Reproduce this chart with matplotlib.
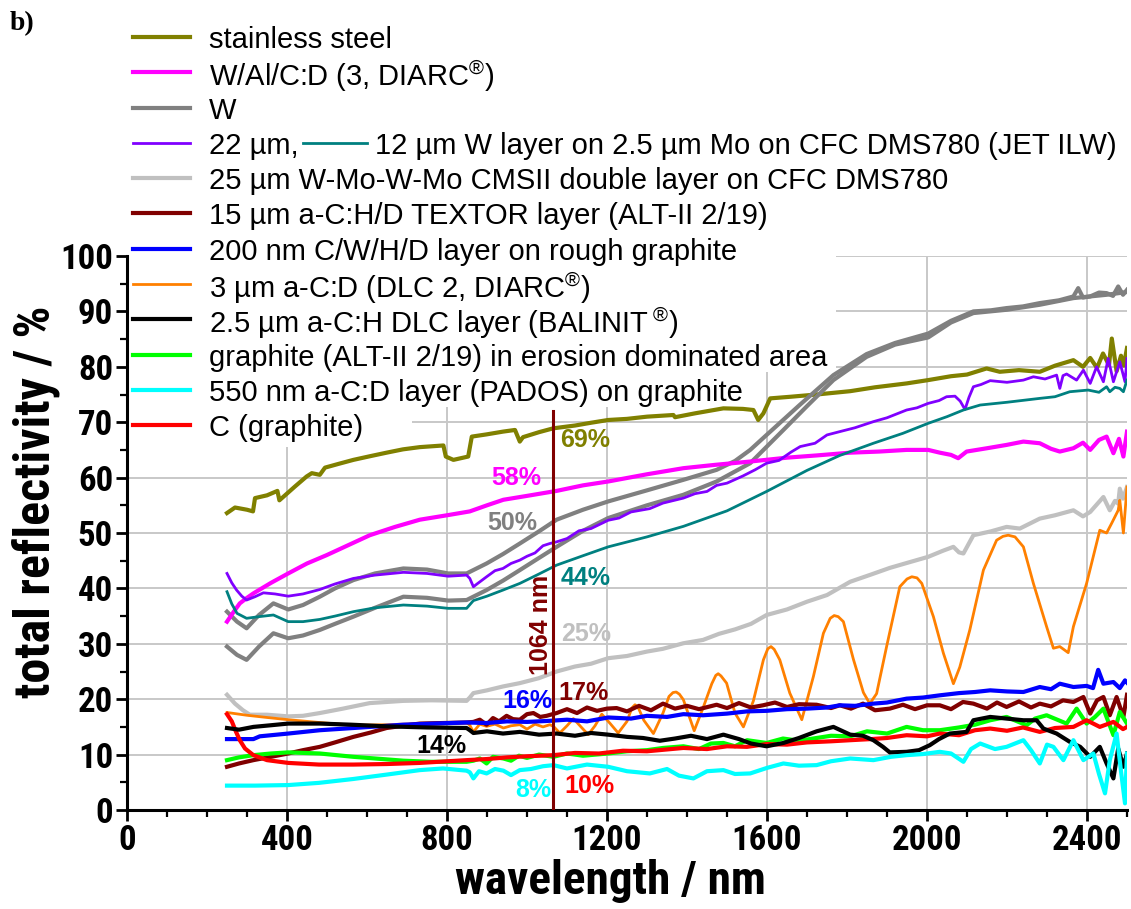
import matplotlib
matplotlib.use("Agg")
import matplotlib.pyplot as plt
from matplotlib import font_manager as fm
from matplotlib.lines import Line2D
from matplotlib.patches import Rectangle
from matplotlib.ticker import MultipleLocator

plt.rcParams['mathtext.fontset'] = 'custom'
plt.rcParams['mathtext.rm'] = 'Liberation Sans'

SANS = ['Liberation Sans', 'DejaVu Sans']


def find_narrow_bold():
    """Return (family, stretch) of a condensed sans font if one is installed."""
    entries = fm.fontManager.ttflist
    names = {f.name for f in entries}
    for n in ['Liberation Sans Narrow', 'Arial Narrow', 'Roboto Condensed',
              'Open Sans Condensed', 'Noto Sans Condensed']:
        if n in names:
            return n, 'normal'
    for f in entries:
        if f.name in ('Noto Sans', 'Open Sans', 'Roboto') and \
                str(f.stretch) in ('condensed', 'semi-condensed', 'extra-condensed'):
            return f.name, str(f.stretch)
    return None, None


narrow_family, narrow_stretch = find_narrow_bold()
if narrow_family is not None:
    AXFONT = dict(family=[narrow_family, 'Liberation Sans'], fontstretch=narrow_stretch)
    tick_size, xlab_size, ylab_size = 25, 34, 36
else:
    AXFONT = dict(family=SANS)
    tick_size, xlab_size, ylab_size = 23, 30, 32

# ---------------- data (wavelength in nm, total reflectivity in %) ----------------
steel_x = [250, 270, 300, 315, 320, 350, 376, 381, 420, 449, 462, 482, 495, 530, 566, 610, 649, 690, 732, 791, 797, 816, 853, 862, 899, 940, 970, 982, 990, 1030, 1066, 1120, 1160, 1203, 1250, 1300, 1366, 1370, 1420, 1491, 1540, 1566, 1578, 1591, 1608, 1660, 1724, 1808, 1870, 1949, 2003, 2060, 2100, 2149, 2182, 2230, 2282, 2320, 2366, 2390, 2408, 2425, 2440, 2455, 2462, 2474, 2485, 2492, 2500]
steel_y = [53.6, 54.6, 54.2, 53.9, 56.3, 56.8, 57.6, 55.9, 58.4, 60.2, 60.8, 60.5, 61.8, 62.5, 63.2, 63.9, 64.5, 65.1, 65.5, 65.8, 63.8, 63.2, 63.8, 67.4, 67.8, 68.3, 68.6, 66.5, 67.3, 68.2, 68.9, 69.4, 69.9, 70.4, 70.6, 71.0, 71.3, 70.9, 71.6, 72.5, 72.4, 72.2, 70.4, 71.6, 74.3, 74.6, 75.0, 75.6, 76.3, 77.0, 77.6, 78.3, 78.6, 79.7, 79.1, 79.4, 79.1, 80.2, 81.2, 80.0, 81.6, 79.8, 82.4, 80.3, 85.1, 79.2, 82.0, 80.2, 83.4]

walc_x = [250, 265, 282, 300, 316, 360, 403, 450, 499, 550, 607, 670, 732, 800, 857, 900, 941, 1000, 1074, 1140, 1203, 1300, 1391, 1470, 1558, 1650, 1724, 1808, 1880, 1949, 2003, 2032, 2060, 2078, 2099, 2150, 2199, 2241, 2282, 2310, 2332, 2366, 2390, 2408, 2430, 2449, 2466, 2480, 2491, 2500]
walc_y = [34.0, 35.6, 37.3, 38.3, 39.1, 41.0, 42.7, 44.5, 46.0, 47.7, 49.6, 51.1, 52.4, 53.2, 53.9, 55.0, 56.0, 56.7, 57.6, 58.6, 59.3, 60.6, 61.7, 62.3, 62.9, 63.6, 64.0, 64.5, 64.7, 65.0, 65.0, 64.5, 64.1, 63.5, 64.7, 65.3, 65.9, 66.5, 66.2, 65.2, 64.7, 65.3, 66.3, 65.0, 66.8, 67.4, 64.4, 67.0, 63.8, 68.3]

w1_x = [250, 275, 299, 330, 366, 403, 440, 482, 520, 566, 620, 691, 750, 803, 849, 899, 940, 982, 1030, 1074, 1140, 1203, 1300, 1391, 1474, 1520, 1558, 1599, 1680, 1766, 1849, 1920, 2003, 2060, 2116, 2160, 2199, 2240, 2282, 2330, 2366, 2378, 2390, 2408, 2430, 2449, 2465, 2478, 2490, 2500]
w1_y = [35.8, 34.0, 32.8, 35.2, 37.3, 36.2, 37.0, 38.5, 40.0, 41.5, 42.7, 43.6, 43.4, 42.7, 42.7, 44.5, 46.2, 48.1, 50.3, 52.4, 54.2, 55.7, 57.7, 59.6, 61.4, 63.0, 65.0, 67.7, 73.0, 78.5, 82.3, 84.3, 86.0, 88.3, 90.0, 90.2, 90.6, 90.9, 91.5, 92.0, 92.7, 94.2, 92.5, 92.7, 93.4, 93.3, 92.8, 94.5, 93.0, 93.9]

w2_x = [250, 275, 299, 330, 366, 403, 440, 482, 520, 566, 620, 691, 750, 803, 849, 899, 940, 982, 1030, 1074, 1140, 1203, 1300, 1391, 1474, 1558, 1641, 1700, 1766, 1849, 1920, 2003, 2060, 2116, 2200, 2282, 2366, 2449, 2500]
w2_y = [29.5, 28.0, 27.1, 29.5, 31.9, 31.0, 31.5, 32.5, 33.6, 34.9, 36.5, 38.5, 38.3, 37.8, 37.9, 39.7, 41.4, 43.3, 45.5, 47.5, 50.4, 52.7, 55.0, 56.9, 59.3, 62.6, 68.6, 72.9, 77.6, 81.8, 84.0, 85.3, 88.0, 89.7, 90.3, 91.2, 92.4, 93.0, 93.5]

w22_x = [250, 262, 274, 287, 299, 320, 341, 370, 403, 440, 482, 520, 566, 620, 691, 750, 803, 849, 857, 866, 875, 899, 920, 940, 960, 982, 1000, 1020, 1040, 1057, 1074, 1100, 1130, 1160, 1203, 1230, 1260, 1307, 1340, 1391, 1420, 1450, 1474, 1500, 1540, 1570, 1599, 1630, 1660, 1683, 1720, 1750, 1782, 1820, 1866, 1900, 1949, 1975, 2003, 2030, 2049, 2070, 2083, 2095, 2105, 2116, 2135, 2158, 2200, 2241, 2266, 2295, 2324, 2332, 2340, 2349, 2374, 2391, 2408, 2424, 2441, 2453, 2466, 2482, 2495, 2500]
w22_y = [42.7, 41.0, 39.7, 38.6, 37.9, 38.5, 39.2, 39.0, 38.6, 39.0, 39.8, 40.8, 41.8, 42.4, 42.9, 42.7, 42.2, 42.4, 41.8, 40.3, 40.8, 42.1, 43.2, 43.6, 44.5, 45.1, 45.8, 46.4, 47.7, 48.1, 48.4, 49.0, 50.4, 50.8, 52.3, 52.7, 53.8, 54.4, 55.4, 56.3, 57.1, 57.5, 58.6, 59.0, 60.3, 61.4, 62.6, 63.1, 64.6, 65.6, 66.2, 67.7, 68.3, 69.0, 70.1, 70.8, 72.2, 72.6, 73.4, 73.9, 74.6, 74.7, 73.8, 72.3, 74.5, 76.4, 76.8, 77.5, 77.2, 77.6, 78.2, 77.8, 78.5, 76.1, 78.4, 78.7, 77.6, 79.4, 77.0, 80.0, 77.3, 81.5, 77.3, 80.9, 77.3, 81.5]

w12_x = [250, 262, 275, 299, 330, 366, 403, 440, 482, 520, 566, 620, 691, 750, 803, 849, 866, 900, 940, 982, 1030, 1074, 1140, 1203, 1300, 1391, 1500, 1599, 1700, 1782, 1866, 1940, 2003, 2050, 2091, 2133, 2200, 2282, 2320, 2357, 2403, 2430, 2449, 2457, 2470, 2482, 2491, 2500]
w12_y = [39.4, 37.2, 35.5, 34.6, 34.9, 35.2, 34.0, 34.0, 34.4, 35.0, 35.8, 36.5, 37.0, 36.8, 36.4, 36.4, 37.8, 38.6, 39.7, 40.9, 42.6, 44.2, 45.9, 47.5, 49.3, 51.2, 54.0, 57.5, 61.3, 64.0, 66.2, 68.0, 69.8, 71.0, 72.2, 73.1, 73.6, 74.3, 74.6, 75.5, 75.8, 75.4, 76.4, 75.5, 76.3, 76.1, 75.5, 77.6]

wmo_x = [250, 270, 290, 307, 350, 403, 440, 482, 540, 607, 691, 760, 849, 857, 866, 900, 940, 982, 1030, 1074, 1120, 1160, 1203, 1250, 1300, 1340, 1391, 1440, 1480, 1520, 1560, 1599, 1650, 1700, 1750, 1808, 1860, 1907, 1950, 2003, 2040, 2066, 2080, 2091, 2116, 2160, 2199, 2232, 2282, 2320, 2366, 2390, 2408, 2441, 2457, 2470, 2478, 2482, 2490, 2500]
wmo_y = [20.8, 19.2, 18.0, 17.2, 17.2, 16.9, 17.0, 17.5, 18.3, 19.3, 19.7, 19.8, 19.7, 20.3, 21.1, 21.6, 22.3, 22.9, 23.8, 25.0, 25.9, 26.4, 27.4, 27.8, 28.6, 29.1, 30.1, 30.7, 31.8, 32.6, 33.6, 35.2, 36.2, 37.6, 38.8, 41.2, 42.5, 43.7, 44.6, 45.7, 46.8, 47.5, 46.5, 46.3, 49.6, 50.3, 51.1, 50.8, 52.6, 53.2, 54.1, 53.0, 53.8, 56.5, 54.1, 55.8, 55.3, 58.0, 56.2, 58.3]

textor_x = [250, 280, 316, 360, 403, 440, 482, 520, 566, 610, 649, 690, 732, 790, 849, 866, 882, 899, 915, 930, 949, 965, 982, 1000, 1016, 1033, 1049, 1074, 1100, 1125, 1150, 1175, 1200, 1224, 1250, 1280, 1310, 1340, 1370, 1400, 1430, 1474, 1500, 1530, 1560, 1590, 1620, 1650, 1680, 1724, 1760, 1782, 1810, 1840, 1870, 1907, 1940, 1970, 2000, 2032, 2060, 2090, 2116, 2150, 2175, 2199, 2230, 2260, 2282, 2310, 2340, 2366, 2391, 2408, 2425, 2441, 2457, 2474, 2491, 2500]
textor_y = [7.8, 8.4, 9.0, 9.6, 10.2, 10.8, 11.4, 12.2, 13.2, 14.0, 14.8, 15.2, 15.6, 15.7, 15.8, 15.9, 16.3, 15.4, 16.6, 16.0, 17.0, 16.4, 16.3, 17.3, 17.5, 16.8, 17.0, 17.5, 18.2, 17.5, 18.5, 17.9, 18.3, 18.4, 17.8, 18.8, 18.0, 19.2, 18.3, 18.8, 18.2, 19.0, 18.4, 19.3, 18.5, 18.9, 19.4, 18.6, 19.1, 19.0, 18.4, 18.9, 18.3, 19.2, 18.0, 18.3, 19.0, 18.2, 18.9, 18.9, 18.2, 19.5, 19.2, 18.3, 19.4, 18.6, 19.6, 18.5, 19.2, 18.7, 19.8, 19.5, 20.4, 17.4, 19.8, 20.4, 17.1, 20.4, 16.8, 20.8]

cwhd_x = [250, 290, 316, 332, 403, 482, 566, 691, 849, 899, 950, 1000, 1057, 1100, 1150, 1203, 1260, 1300, 1350, 1391, 1440, 1500, 1550, 1599, 1650, 1700, 1750, 1782, 1820, 1866, 1900, 1949, 1990, 2032, 2080, 2120, 2158, 2200, 2241, 2282, 2310, 2332, 2366, 2399, 2415, 2428, 2441, 2466, 2482, 2495, 2500]
cwhd_y = [12.8, 12.8, 12.8, 13.3, 13.8, 14.4, 14.8, 15.4, 15.8, 15.7, 16.0, 15.9, 16.1, 16.3, 16.0, 16.7, 16.5, 17.0, 16.8, 17.3, 17.1, 17.4, 17.8, 17.9, 18.2, 18.3, 18.5, 18.9, 18.8, 19.2, 19.4, 20.1, 20.3, 20.7, 21.1, 21.3, 21.6, 21.4, 21.3, 22.2, 21.8, 22.8, 22.2, 22.4, 22.0, 25.3, 22.8, 23.1, 22.0, 23.4, 23.0]

dlc_x = [250, 300, 350, 403, 480, 566, 650, 732, 849, 857, 866, 882, 899, 920, 941, 960, 982, 1000, 1020, 1040, 1057, 1066, 1082, 1100, 1116, 1135, 1153, 1170, 1187, 1208, 1228, 1250, 1262, 1270, 1278, 1292, 1316, 1340, 1355, 1365, 1373, 1381, 1391, 1418, 1441, 1462, 1472, 1478, 1485, 1499, 1520, 1541, 1566, 1591, 1602, 1610, 1618, 1632, 1657, 1687, 1716, 1741, 1758, 1768, 1778, 1791, 1816, 1841, 1857, 1874, 1899, 1932, 1950, 1962, 1975, 1987, 2016, 2041, 2066, 2082, 2107, 2141, 2174, 2190, 2203, 2220, 2241, 2266, 2299, 2316, 2332, 2353, 2366, 2399, 2432, 2449, 2462, 2478, 2482, 2491, 2500]
dlc_y = [17.6, 17.1, 16.7, 16.3, 15.8, 15.3, 15.4, 15.6, 15.8, 15.3, 14.1, 15.5, 15.1, 15.5, 14.8, 15.2, 15.4, 14.6, 15.5, 15.0, 15.4, 15.1, 13.9, 15.2, 16.5, 15.0, 13.6, 15.2, 17.3, 15.6, 13.9, 16.0, 18.4, 19.0, 18.5, 16.2, 13.8, 17.5, 20.5, 21.2, 21.3, 20.9, 19.9, 14.3, 18.6, 22.8, 24.3, 24.6, 24.2, 22.9, 17.5, 15.0, 19.7, 27.1, 29.1, 29.5, 29.0, 27.1, 21.1, 16.3, 24.1, 31.9, 34.6, 35.1, 34.9, 34.0, 27.2, 21.2, 19.2, 21.0, 29.5, 40.3, 41.7, 42.1, 41.9, 40.9, 34.9, 28.3, 22.8, 25.8, 32.5, 43.3, 48.7, 49.4, 49.6, 49.3, 47.5, 40.9, 33.1, 29.2, 29.5, 28.4, 33.1, 40.9, 50.5, 50.0, 51.8, 54.1, 55.9, 50.0, 58.3]

balinit_x = [250, 280, 316, 360, 403, 482, 560, 649, 750, 849, 857, 866, 900, 940, 982, 1030, 1074, 1120, 1160, 1203, 1250, 1290, 1332, 1370, 1410, 1450, 1491, 1530, 1560, 1599, 1641, 1680, 1724, 1766, 1808, 1840, 1866, 1890, 1907, 1949, 1980, 2007, 2030, 2057, 2099, 2116, 2158, 2199, 2241, 2274, 2291, 2324, 2357, 2383, 2408, 2432, 2449, 2466, 2478, 2491, 2500]
balinit_y = [14.8, 14.5, 15.0, 15.3, 15.6, 15.6, 15.4, 15.1, 14.9, 14.8, 14.4, 13.9, 14.2, 13.8, 14.1, 13.6, 13.8, 13.4, 13.9, 13.6, 13.2, 13.0, 12.5, 12.9, 13.4, 12.8, 13.6, 12.8, 12.0, 11.5, 12.1, 13.0, 14.2, 15.0, 13.6, 13.4, 12.6, 11.4, 10.4, 10.5, 10.8, 11.7, 12.8, 13.8, 14.1, 16.2, 16.8, 16.5, 16.2, 16.2, 14.7, 13.8, 12.3, 11.4, 9.6, 11.4, 8.4, 5.7, 11.1, 7.8, 10.2]

alt_x = [250, 280, 316, 360, 403, 482, 566, 620, 691, 760, 849, 866, 882, 899, 915, 941, 960, 980, 1000, 1030, 1066, 1100, 1140, 1203, 1250, 1300, 1340, 1391, 1430, 1460, 1491, 1520, 1550, 1599, 1640, 1680, 1724, 1760, 1808, 1850, 1900, 1949, 1990, 2032, 2080, 2120, 2158, 2199, 2249, 2270, 2299, 2349, 2374, 2399, 2420, 2441, 2466, 2482, 2500]
alt_y = [9.0, 9.5, 9.9, 10.2, 10.4, 10.2, 9.6, 9.3, 8.9, 8.7, 8.7, 8.9, 9.3, 8.4, 9.6, 9.3, 8.9, 9.8, 9.4, 10.0, 9.6, 10.2, 9.8, 10.2, 10.6, 10.8, 11.2, 11.5, 11.0, 12.0, 12.1, 11.5, 12.6, 12.1, 12.9, 12.5, 13.0, 13.4, 13.3, 14.2, 13.8, 15.0, 14.4, 14.4, 14.9, 15.4, 16.2, 16.8, 15.3, 16.5, 17.1, 15.6, 18.3, 15.6, 16.8, 18.3, 13.5, 17.7, 15.6]

pados_x = [250, 320, 403, 480, 566, 650, 732, 790, 849, 857, 866, 880, 899, 920, 941, 960, 982, 1010, 1040, 1066, 1100, 1150, 1203, 1250, 1307, 1350, 1380, 1416, 1450, 1491, 1520, 1558, 1600, 1641, 1680, 1724, 1760, 1808, 1866, 1910, 1949, 1990, 2032, 2060, 2091, 2110, 2133, 2170, 2199, 2241, 2260, 2282, 2300, 2316, 2341, 2366, 2391, 2416, 2430, 2445, 2457, 2474, 2485, 2495, 2500]
pados_y = [4.4, 4.4, 4.5, 4.9, 5.6, 6.4, 7.2, 7.5, 7.1, 6.8, 5.7, 7.0, 6.6, 7.4, 7.1, 6.3, 7.2, 7.4, 7.9, 8.1, 7.5, 8.2, 7.8, 7.0, 6.6, 7.4, 6.2, 5.7, 7.0, 7.2, 6.5, 6.6, 7.6, 8.4, 8.0, 8.1, 8.8, 9.3, 9.0, 9.6, 9.9, 10.1, 10.5, 10.2, 8.7, 11.0, 12.0, 11.0, 11.4, 12.6, 10.8, 8.4, 11.8, 11.4, 9.0, 12.6, 9.0, 10.2, 6.5, 3.0, 9.0, 13.8, 7.0, 1.2, 10.2]

graphite_x = [250, 262, 272, 282, 295, 316, 350, 403, 480, 566, 650, 732, 849, 900, 950, 1000, 1066, 1120, 1180, 1240, 1300, 1391, 1450, 1500, 1550, 1599, 1650, 1700, 1760, 1808, 1860, 1900, 1949, 2000, 2032, 2080, 2120, 2158, 2200, 2240, 2282, 2320, 2366, 2399, 2432, 2466, 2490, 2500]
graphite_y = [17.3, 16.0, 14.2, 12.6, 11.1, 9.9, 9.0, 8.5, 8.2, 8.2, 8.3, 8.5, 9.0, 9.2, 9.5, 9.7, 9.9, 10.3, 10.2, 10.7, 10.6, 11.2, 11.0, 11.5, 11.4, 11.9, 11.8, 12.2, 12.4, 12.6, 12.8, 13.0, 13.5, 13.3, 13.8, 13.5, 14.4, 14.7, 14.3, 14.9, 14.1, 14.8, 15.0, 16.2, 15.0, 15.9, 14.6, 15.0]

legend_labels = [
    'stainless steel',
    'W/Al/C:D (3, DIARC$^{\u00ae}$)',
    'W',
    '22 \u00b5m,',
    '25 \u00b5m W-Mo-W-Mo CMSII double layer on CFC DMS780',
    '15 \u00b5m a-C:H/D TEXTOR layer (ALT-II 2/19)',
    '200 nm C/W/H/D layer on rough graphite',
    '3 \u00b5m a-C:D (DLC 2, DIARC$^{\u00ae}$)',
    '2.5 \u00b5m a-C:H DLC layer (BALINIT$\\,^{\u00ae}$)',
    'graphite (ALT-II 2/19) in erosion dominated area',
    '550 nm a-C:D layer (PADOS) on graphite',
    'C (graphite)',
]
label_12um = '12 \u00b5m W layer on 2.5 \u00b5m Mo on CFC DMS780 (JET ILW)'

# value annotations at 1064 nm: (text, x, y, colour)
annotations = [
    ('69%', 1145, 66.8, '#808000'),
    ('58%', 972, 59.9, '#ff00ff'),
    ('50%', 962, 51.8, '#808080'),
    ('44%', 1147, 41.9, '#008080'),
    ('25%', 1147, 31.8, '#c0c0c0'),
    ('16%', 1000, 19.7, '#0000ff'),
    ('17%', 1140, 21.1, '#800000'),
    ('14%', 787, 11.5, '#000000'),
    ('8%', 1016, 3.6, '#00ffff'),
    ('10%', 1155, 4.3, '#ff0000'),
]
laser_nm = 1064

# ---------------- figure ----------------
W, H = 1131, 909
fig = plt.figure(figsize=(W / 100, H / 100), dpi=100)
ax = fig.add_axes([127 / W, 1 - 810 / H, 1000 / W, 554 / H])
ax.set_xlim(0, 2500)
ax.set_ylim(0, 100)

ax.set_axisbelow(True)
ax.grid(True, which='major', color='#c8c8c8', linewidth=1.4)
for s in ('top', 'right'):
    ax.spines[s].set_visible(False)
for s in ('left', 'bottom'):
    ax.spines[s].set_linewidth(2.2)

ax.xaxis.set_major_locator(MultipleLocator(400))
ax.xaxis.set_minor_locator(MultipleLocator(100))
ax.yaxis.set_major_locator(MultipleLocator(10))
ax.yaxis.set_minor_locator(MultipleLocator(5))
ax.tick_params(which='major', direction='out', length=8, width=2, pad=2)
ax.tick_params(which='minor', direction='out', length=5, width=1.6)
for lab in ax.get_xticklabels() + ax.get_yticklabels():
    lab.set(fontweight='bold', fontsize=tick_size, **AXFONT)

ax.set_xlabel('wavelength / nm', fontweight='bold', fontsize=xlab_size, **AXFONT)
ax.xaxis.set_label_coords((610 - 127) / 1000, -(859 - 810) / 554)
ax.set_ylabel('total reflectivity / %', fontweight='bold', fontsize=ylab_size, **AXFONT)
ax.yaxis.set_label_coords(-(127 - 60) / 1000, (810 - 502) / 554)

# white areas behind the legend block (hide the grid there)
for (x0, y0, x1, y1) in [(127, 250, 836, 372), (127, 372, 760, 407), (127, 407, 412, 447)]:
    ax.add_patch(Rectangle((x0 / W, 1 - y1 / H), (x1 - x0) / W, (y1 - y0) / H,
                           transform=fig.transFigure, facecolor='white', edgecolor='none',
                           zorder=1, clip_on=False))

series = [
    (steel_x, steel_y, '#808000', 3.0),
    (w1_x, w1_y, '#808080', 3.0),
    (w2_x, w2_y, '#808080', 3.0),
    (walc_x, walc_y, '#ff00ff', 3.0),
    (w22_x, w22_y, '#8000ff', 2.0),
    (w12_x, w12_y, '#008080', 2.0),
    (wmo_x, wmo_y, '#c0c0c0', 3.0),
    (dlc_x, dlc_y, '#ff8000', 2.0),
    (textor_x, textor_y, '#800000', 3.0),
    (cwhd_x, cwhd_y, '#0000ff', 3.0),
    (alt_x, alt_y, '#00ff00', 3.0),
    (graphite_x, graphite_y, '#ff0000', 3.0),
    (balinit_x, balinit_y, '#000000', 3.0),
    (pados_x, pados_y, '#00ffff', 3.0),
]
for xs, ys, c, lw in series:
    ax.plot(xs, ys, color=c, linewidth=lw, solid_joinstyle='round', zorder=2)

# laser wavelength marker
ax.plot([laser_nm, laser_nm], [0, 72], color='#800000', linewidth=2.2, zorder=3)
ax.text(laser_nm - 29, 33.4, '1064 nm', rotation=90, color='#800000', fontsize=18,
        fontweight='bold', family=SANS, ha='center', va='center', zorder=4)

for txt, x, y, c in annotations:
    ax.text(x, y, txt, color=c, fontsize=18, fontweight='bold', family=SANS,
            ha='center', va='center', zorder=4)

# ---------------- legend block ----------------
legend_colors = ['#808000', '#ff00ff', '#808080', '#8000ff', '#c0c0c0', '#800000',
                 '#0000ff', '#ff8000', '#000000', '#00ff00', '#00ffff', '#ff0000']
legend_widths = [3, 3, 3, 2, 3, 3, 3, 2, 3, 3, 3, 3]
row0, dy = 37, 35.3
fy3 = None
for i, (lab, c, lw) in enumerate(zip(legend_labels, legend_colors, legend_widths)):
    py = row0 + dy * i
    fy = 1 - py / H
    fig.add_artist(Line2D([133 / W, 190 / W], [fy, fy], color=c, linewidth=lw,
                          transform=fig.transFigure))
    fig.text(209 / W, fy, lab, fontsize=21, family=SANS, ha='left', va='center_baseline')
    if i == 3:
        fy3 = fy
fig.add_artist(Line2D([303 / W, 367 / W], [fy3, fy3], color='#008080', linewidth=2,
                      transform=fig.transFigure))
fig.text(375 / W, fy3, label_12um, fontsize=21, family=SANS, ha='left', va='center_baseline')

fig.text(10 / W, 1 - 24 / H, 'b)', fontsize=20, fontweight='bold',
         family=['Liberation Serif', 'DejaVu Serif'], ha='left', va='center')

fig.savefig('out.png', dpi=100)
